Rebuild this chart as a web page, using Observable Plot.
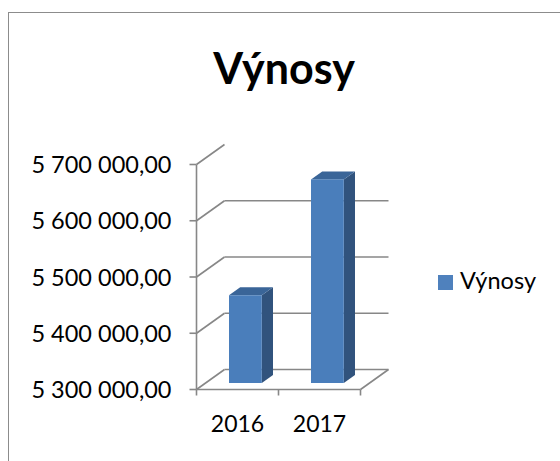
<!DOCTYPE html>
<html>
<head>
<meta charset="utf-8">
<script src="https://cdn.jsdelivr.net/npm/d3@7"></script>
<script src="https://cdn.jsdelivr.net/npm/@observablehq/plot@0.6"></script>
<style>
  html, body { margin: 0; padding: 0; background: #fff; }
  body { width: 560px; height: 461px; overflow: hidden; position: relative; font-family: Lato, "Open Sans", sans-serif; }
  #frame { position: absolute; left: 8px; top: 12px; width: 700px; height: 700px; border: 1.5px solid #8c8c8c; box-sizing: border-box; }
  #chart { position: absolute; left: 0; top: 0; }
  #title { position: absolute; left: 0; width: 568px; top: 46px; text-align: center; font: bold 43px Lato, sans-serif; line-height: 1; color: #000; }
  #legend { position: absolute; left: 438px; top: 269px; font: 23.5px Lato, sans-serif; line-height: 1; color: #000; white-space: nowrap; }
  #legend .sw { display: inline-block; width: 15px; height: 15px; background: #4F81BD; margin-right: 7px; vertical-align: -1px; }
</style>
</head>
<body>
<div id="frame"></div>
<div id="chart"></div>
<div id="title">Výnosy</div>
<div id="legend"><span class="sw"></span>Výnosy</div>
<script>
// ---- data ----
const categories = ["2016", "2017"];
const values = [5456000, 5662000];
const seriesName = "Výnosy";
const yTicks = [5300000, 5400000, 5500000, 5600000, 5700000];

// ---- layout (3D projection constants) ----
const yMin = 5300000, yMax = 5700000;
const pxPerX = 82;                 // pixels per category on the front plane
const pxPerY = 225 / (yMax - yMin); // pixels per unit value
const DX = 28 / pxPerX;            // full depth in x units
const DY = 20 / pxPerY;            // full depth in y units
const d0 = 0.3, d1 = 0.7;          // bar depth span
const bw0 = 0.3, bw1 = 0.7;        // bar x span within category

const fmt = d3.formatLocale({decimal: ",", thousands: " ", grouping: [3], currency: ["", ""]}).format(",.2f");

const grid = "#878787";
const gw = 1.6;

const backLines = yTicks.filter(v => v < yMax); // back wall lines incl. floor back edge
const wallDiag = yTicks;

const bars = categories.map((c, i) => ({c, i, v: values[i]}));
const sidePts = bars.flatMap(b => [d0, d1].map(d => ({
  c: b.c, x: b.i + bw1 + d * DX, y1: yMin + d * DY, y2: b.v + d * DY
})));
const topPts = bars.flatMap(b => [d0, d1].map(d => ({
  c: b.c, y: b.v + d * DY, x1: b.i + bw0 + d * DX, x2: b.i + bw1 + d * DX
})));

const n = categories.length;
const tickLenX = 7 / pxPerX;
const tickLenY = 6 / pxPerY;

const chart = Plot.plot({
  width: 560,
  height: 461,
  marginLeft: 196,
  marginRight: 560 - 196 - (n + DX) * pxPerX,
  marginTop: 144,
  marginBottom: 72,
  x: {type: "linear", domain: [0, n + DX], axis: null},
  y: {type: "linear", domain: [yMin, yMax + DY], axis: null},
  style: {fontFamily: "Lato, sans-serif", background: "transparent", overflow: "visible"},
  marks: [
    // back wall gridlines
    Plot.link(backLines, {x1: DX, x2: n + DX, y1: v => v + DY, y2: v => v + DY, stroke: grid, strokeWidth: gw}),
    // left wall diagonals
    Plot.link(wallDiag, {x1: 0, x2: DX, y1: v => v, y2: v => v + DY, stroke: grid, strokeWidth: gw}),
    // floor front edge and right diagonal
    Plot.link([yMin], {x1: 0, x2: n, y1: yMin, y2: yMin, stroke: grid, strokeWidth: gw}),
    Plot.link([yMin], {x1: n, x2: n + DX, y1: yMin, y2: yMin + DY, stroke: grid, strokeWidth: gw}),
    // left axis line
    Plot.link([0], {x1: 0, x2: 0, y1: yMin, y2: yMax, stroke: grid, strokeWidth: gw}),
    // y ticks
    Plot.link(yTicks, {x1: -tickLenX, x2: 0, y1: v => v, y2: v => v, stroke: grid, strokeWidth: gw}),
    // x ticks
    Plot.link(d3.range(n + 1), {x1: i => i, x2: i => i, y1: yMin, y2: yMin - tickLenY, stroke: grid, strokeWidth: gw}),
    // bars: side faces
    Plot.area(sidePts, {x1: "x", y1: "y1", y2: "y2", z: "c", fill: "#31537D", curve: "linear"}),
    // bars: top faces
    Plot.area(topPts, {y1: "y", x1: "x1", x2: "x2", z: "c", fill: "#3A6598", curve: "linear"}),
    // bars: front faces
    Plot.rect(bars, {
      x1: b => b.i + bw0 + d0 * DX, x2: b => b.i + bw1 + d0 * DX,
      y1: b => yMin + d0 * DY, y2: b => b.v + d0 * DY,
      fill: "#4A7EBB"
    }),
    // y tick labels
    Plot.text(yTicks, {x: 0, y: v => v, text: v => fmt(v), textAnchor: "end", dx: -25, dy: 1, fontSize: 23.5, fill: "#000"}),
    // x tick labels
    Plot.text(categories, {x: (c, i) => i + 0.5, y: yMin, text: c => c, dy: 35, fontSize: 23, fill: "#000"})
  ]
});
document.getElementById("chart").appendChild(chart);
</script>
</body>
</html>
